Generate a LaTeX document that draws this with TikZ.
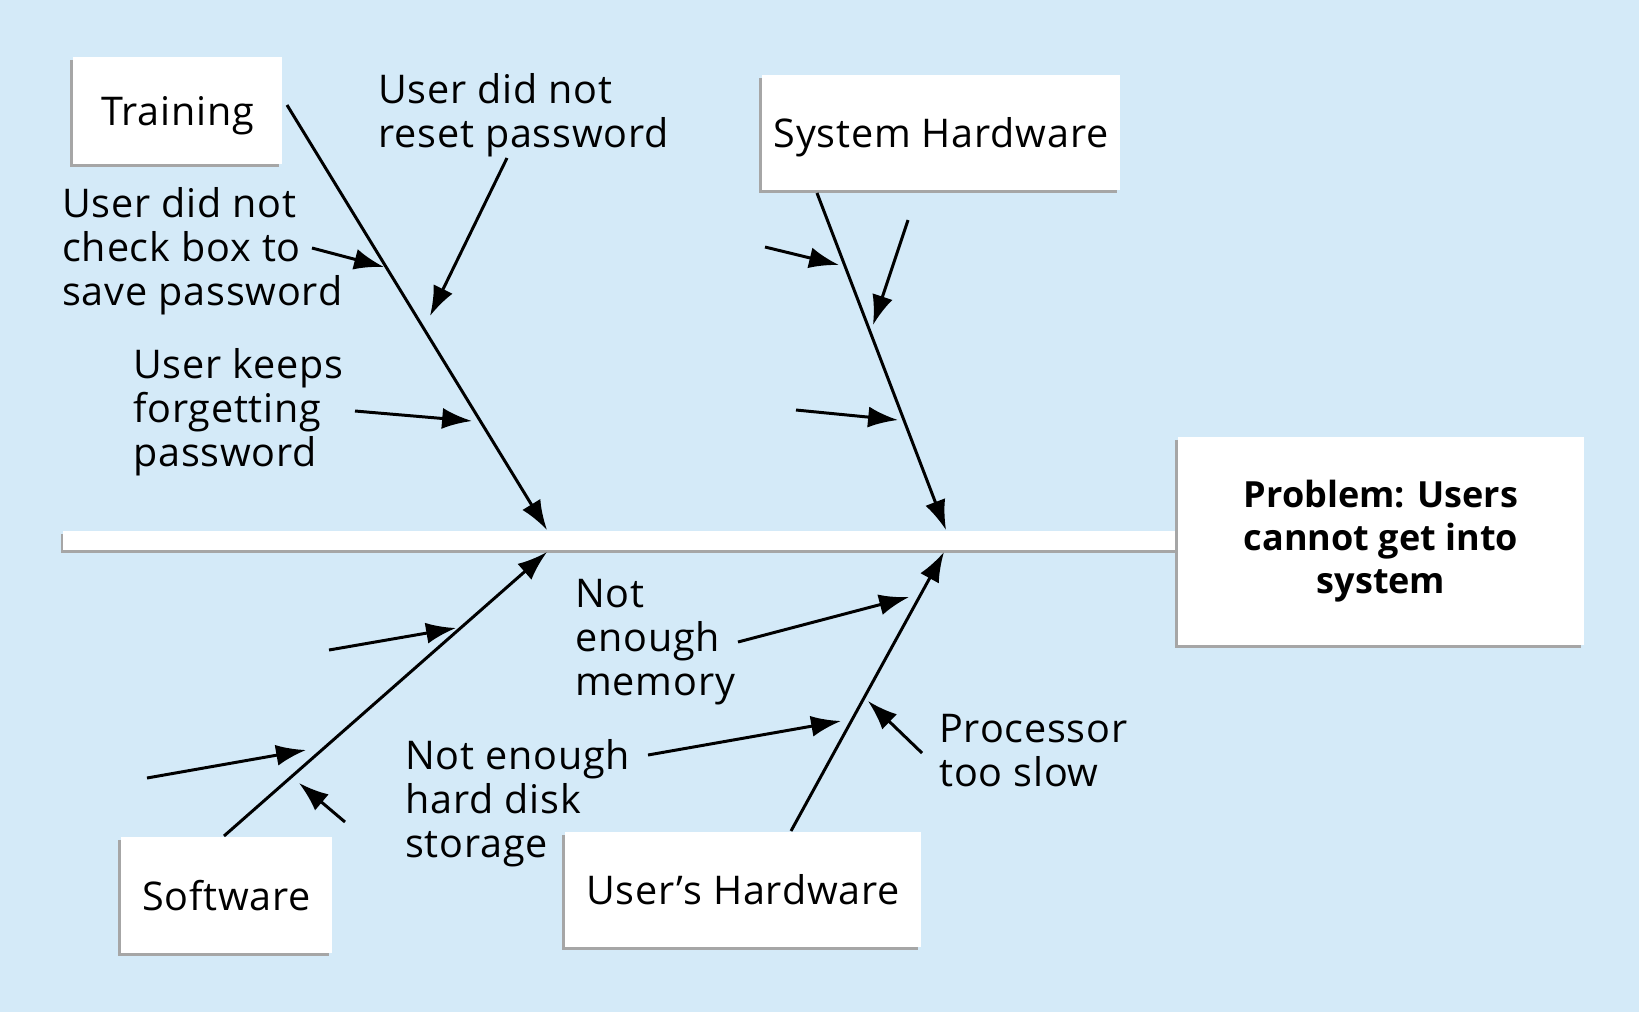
\documentclass[tikz,border=0pt]{standalone}
\usepackage{fontspec}
\setmainfont{Open Sans}[LetterSpace=2]
\usetikzlibrary{arrows.meta,shadows,positioning}

\definecolor{fishbg}{RGB}{212,234,248}

\tikzset{
  catbox/.style={fill=white,inner sep=0pt,text depth=0pt,
    drop shadow={shadow xshift=-1.6pt,shadow yshift=-1.8pt,fill=black!35,opacity=1},
    font=\fontsize{22.5}{25}\selectfont},
  lbl/.style={align=left,inner sep=0pt,anchor=base west,font=\fontsize{22.5}{25}\selectfont},
  bone/.style={line width=1.7pt,-{Latex[length=17pt,width=12pt]}},
}

\begin{document}
\begin{tikzpicture}[x=0.02cm,y=-0.02cm]

\useasboundingbox (0,0) rectangle (1639,1012);
\fill[fishbg] (0,0) rectangle (1639,1012);

%% spine
\fill[black!35] (61,534) rectangle (1180,553);
\fill[white] (63,531) rectangle (1182,550);

%% boxes
\node[catbox,minimum width=4.18cm,minimum height=2.14cm] (training) at (177.5,110.5) {Training};
\node[catbox,minimum width=7.16cm,minimum height=2.3cm] (syshw) at (941,132.5) {System Hardware};
\node[catbox,minimum width=4.22cm,minimum height=2.32cm] (software) at (226.5,895) {Software};
\node[catbox,minimum width=7.12cm,minimum height=2.3cm] (usershw) at (743,889.5) {User’s Hardware};
\node[catbox,minimum width=8.12cm,minimum height=4.16cm,align=center,text depth=,
  font=\bfseries\fontsize{20.5}{24.5}\selectfont\addfontfeature{LetterSpace=0}] (problem) at (1381,541)
  {Problem: Users\\cannot get into\\system};

%% labels (placed at the baseline of the last line)
\node[lbl] (reset) at (378,147) {User did not\\reset password};
\node[lbl] (check) at (62,305) {User did not\\check box to\\save password};
\node[lbl] (forget) at (133,466) {User keeps\\forgetting\\password};
\node[lbl] (memory) at (575,695) {Not\\enough\\memory};
\node[lbl] (disk) at (405,857) {Not enough\\hard disk\\storage};
\node[lbl] (cpu) at (939,786) {Processor\\too slow};

%% bones
\coordinate (tr-a) at (287,105);   \coordinate (tr-b) at (547,530);
\coordinate (sh-a) at (817,193);   \coordinate (sh-b) at (946,530);
\coordinate (sw-a) at (224,836);   \coordinate (sw-b) at (547,552);
\coordinate (uh-a) at (791,831);   \coordinate (uh-b) at (944,552);
\draw[bone] (tr-a) -- (tr-b);
\draw[bone] (sh-a) -- (sh-b);
\draw[bone] (sw-a) -- (sw-b);
\draw[bone] (uh-a) -- (uh-b);

%% causes
\coordinate (c1a) at (312,248);  \coordinate (c1b) at (384,267);
\coordinate (c2a) at (507,158);  \coordinate (c2b) at (430,316);
\coordinate (c3a) at (355,411);  \coordinate (c3b) at (472,421);
\draw[bone] (c1a) -- (c1b);
\draw[bone] (c2a) -- (c2b);
\draw[bone] (c3a) -- (c3b);

\coordinate (c4a) at (765,247);  \coordinate (c4b) at (839,265);
\coordinate (c5a) at (908,220);  \coordinate (c5b) at (873,325);
\coordinate (c6a) at (796,410);  \coordinate (c6b) at (898,420);
\draw[bone] (c4a) -- (c4b);
\draw[bone] (c5a) -- (c5b);
\draw[bone] (c6a) -- (c6b);

\coordinate (c7a) at (329,650);  \coordinate (c7b) at (456,628);
\coordinate (c8a) at (147,778);  \coordinate (c8b) at (306,750);
\coordinate (c9a) at (345,822);  \coordinate (c9b) at (299,783);
\draw[bone] (c7a) -- (c7b);
\draw[bone] (c8a) -- (c8b);
\draw[bone] (c9a) -- (c9b);

\coordinate (c10a) at (738,642); \coordinate (c10b) at (909,597);
\coordinate (c11a) at (648,755); \coordinate (c11b) at (841,721);
\coordinate (c12a) at (922,753); \coordinate (c12b) at (868,701);
\draw[bone] (c10a) -- (c10b);
\draw[bone] (c11a) -- (c11b);
\draw[bone] (c12a) -- (c12b);

\end{tikzpicture}
\end{document}
